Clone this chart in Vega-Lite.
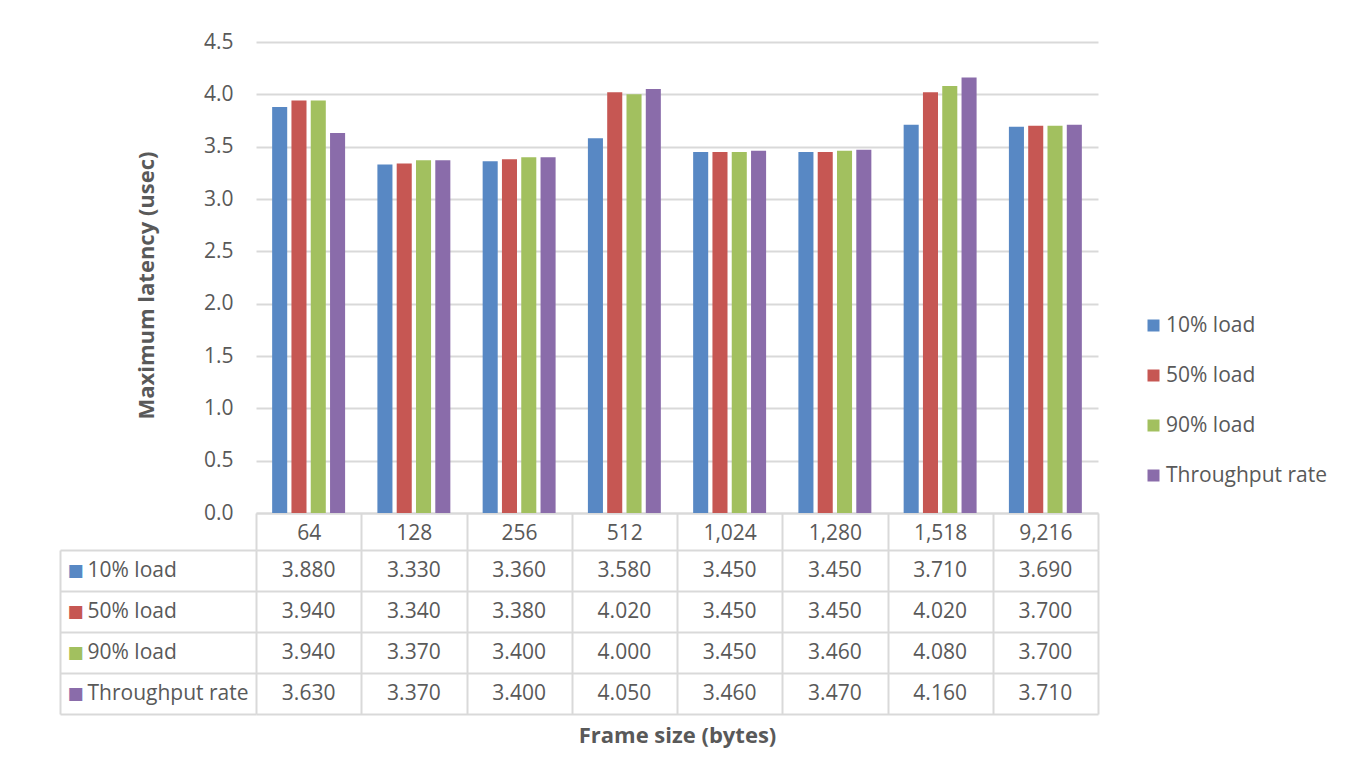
{
  "$schema": "https://vega.github.io/schema/vega-lite/v6.json",
  "background": "white",
  "padding": {"left": 59, "top": 31, "right": 10, "bottom": 20},
  "config": {
    "font": "Open Sans",
    "view": {"stroke": null},
    "axis": {
      "labelFont": "Open Sans",
      "labelFontSize": 21,
      "labelColor": "#595959",
      "titleFont": "Open Sans",
      "titleFontSize": 22,
      "titleFontWeight": "bold",
      "titleColor": "#595959",
      "gridColor": "#d9d9d9",
      "gridWidth": 2,
      "domainColor": "#d9d9d9",
      "domainWidth": 2,
      "tickColor": "#d9d9d9",
      "tickWidth": 2
    }
  },
  "datasets": {
    "latency": [
      {"size": "64", "series": "10% load", "latency": 3.88},
      {"size": "128", "series": "10% load", "latency": 3.33},
      {"size": "256", "series": "10% load", "latency": 3.36},
      {"size": "512", "series": "10% load", "latency": 3.58},
      {"size": "1,024", "series": "10% load", "latency": 3.45},
      {"size": "1,280", "series": "10% load", "latency": 3.45},
      {"size": "1,518", "series": "10% load", "latency": 3.71},
      {"size": "9,216", "series": "10% load", "latency": 3.69},
      {"size": "64", "series": "50% load", "latency": 3.94},
      {"size": "128", "series": "50% load", "latency": 3.34},
      {"size": "256", "series": "50% load", "latency": 3.38},
      {"size": "512", "series": "50% load", "latency": 4.02},
      {"size": "1,024", "series": "50% load", "latency": 3.45},
      {"size": "1,280", "series": "50% load", "latency": 3.45},
      {"size": "1,518", "series": "50% load", "latency": 4.02},
      {"size": "9,216", "series": "50% load", "latency": 3.70},
      {"size": "64", "series": "90% load", "latency": 3.94},
      {"size": "128", "series": "90% load", "latency": 3.37},
      {"size": "256", "series": "90% load", "latency": 3.40},
      {"size": "512", "series": "90% load", "latency": 4.00},
      {"size": "1,024", "series": "90% load", "latency": 3.45},
      {"size": "1,280", "series": "90% load", "latency": 3.46},
      {"size": "1,518", "series": "90% load", "latency": 4.08},
      {"size": "9,216", "series": "90% load", "latency": 3.70},
      {"size": "64", "series": "Throughput rate", "latency": 3.63},
      {"size": "128", "series": "Throughput rate", "latency": 3.37},
      {"size": "256", "series": "Throughput rate", "latency": 3.40},
      {"size": "512", "series": "Throughput rate", "latency": 4.05},
      {"size": "1,024", "series": "Throughput rate", "latency": 3.46},
      {"size": "1,280", "series": "Throughput rate", "latency": 3.47},
      {"size": "1,518", "series": "Throughput rate", "latency": 4.16},
      {"size": "9,216", "series": "Throughput rate", "latency": 3.71}
    ]
  },
  "bounds": "flush",
  "spacing": 37,
  "resolve": {"scale": {"x": "independent", "y": "independent"}},
  "vconcat": [
    {
      "width": 842,
      "height": 471,
      "data": {"name": "latency"},
      "mark": {"type": "bar"},
      "encoding": {
        "x": {
          "field": "size",
          "type": "nominal",
          "sort": ["64", "128", "256", "512", "1,024", "1,280", "1,518", "9,216"],
          "scale": {"paddingInner": 0, "paddingOuter": 0},
          "axis": {
            "title": null,
            "labelAngle": 0,
            "tickBand": "extent",
            "tickSize": 37,
            "labelBaseline": "top",
            "labelPadding": -28,
            "domain": true
          }
        },
        "xOffset": {
          "field": "series",
          "type": "nominal",
          "sort": ["10% load", "50% load", "90% load", "Throughput rate"],
          "scale": {"paddingInner": 0.22, "paddingOuter": 0.837}
        },
        "y": {
          "field": "latency",
          "type": "quantitative",
          "scale": {"domain": [0, 4.5], "nice": false},
          "axis": {
            "title": "Maximum latency (usec)",
            "values": [0, 0.5, 1, 1.5, 2, 2.5, 3, 3.5, 4, 4.5],
            "format": ".1f",
            "grid": true,
            "domain": false,
            "ticks": false,
            "labelPadding": 23,
            "titlePadding": 45,
            "titleY": 243
          }
        },
        "color": {
          "field": "series",
          "type": "nominal",
          "sort": ["10% load", "50% load", "90% load", "Throughput rate"],
          "scale": {
            "domain": ["10% load", "50% load", "90% load", "Throughput rate"],
            "range": ["#5888C4", "#C65753", "#A2C05F", "#8A6CAA"]
          },
          "legend": {
            "title": null,
            "orient": "none",
            "legendX": 887,
            "legendY": 273,
            "padding": 0,
            "symbolType": "square",
            "symbolSize": 144,
            "symbolStrokeWidth": 0,
            "labelFont": "Open Sans",
            "labelFontSize": 21,
            "labelColor": "#595959",
            "labelOffset": 2,
            "labelLimit": 300,
            "rowPadding": 28
          }
        }
      }
    },
    {
      "width": 842,
      "height": 164,
      "data": {"name": "latency"},
      "resolve": {"axis": {"y": "independent"}},
      "layer": [
        {
          "mark": {"type": "text", "font": "Open Sans", "fontSize": 21, "color": "#595959", "baseline": "middle"},
          "encoding": {
            "x": {
              "field": "size",
              "type": "nominal",
              "sort": ["64", "128", "256", "512", "1,024", "1,280", "1,518", "9,216"],
              "scale": {"paddingInner": 0, "paddingOuter": 0},
              "axis": {
                "orient": "bottom",
                "title": "Frame size (bytes)",
                "titlePadding": 11,
                "labels": false,
                "ticks": false,
                "domain": false,
                "grid": true,
                "tickBand": "extent"
              }
            },
            "y": {
              "field": "series",
              "type": "nominal",
              "sort": ["10% load", "50% load", "90% load", "Throughput rate"],
              "scale": {"paddingInner": 0, "paddingOuter": 0},
              "axis": {
                "orient": "left",
                "title": null,
                "grid": true,
                "tickBand": "extent",
                "ticks": true,
                "tickSize": 196,
                "domain": false,
                "labelAlign": "left",
                "labelPadding": -27,
                "labelLimit": 300
              }
            },
            "text": {"field": "latency", "type": "quantitative", "format": ".3f"}
          }
        },
        {
          "mark": {"type": "text", "text": ""},
          "encoding": {
            "y": {
              "field": "series",
              "type": "nominal",
              "sort": ["10% load", "50% load", "90% load", "Throughput rate"],
              "axis": {
                "orient": "left",
                "offset": 196,
                "title": null,
                "grid": false,
                "ticks": false,
                "tickSize": 0,
                "domain": true,
                "labelExpr": "'■'",
                "labelFont": "DejaVu Sans",
                "labelFontSize": 17,
                "labelAlign": "left",
                "labelPadding": -7,
                "labelColor": {
                  "condition": [
                    {"test": "datum.value === '10% load'", "value": "#5888C4"},
                    {"test": "datum.value === '50% load'", "value": "#C65753"},
                    {"test": "datum.value === '90% load'", "value": "#A2C05F"}
                  ],
                  "value": "#8A6CAA"
                }
              }
            }
          }
        }
      ]
    }
  ]
}
